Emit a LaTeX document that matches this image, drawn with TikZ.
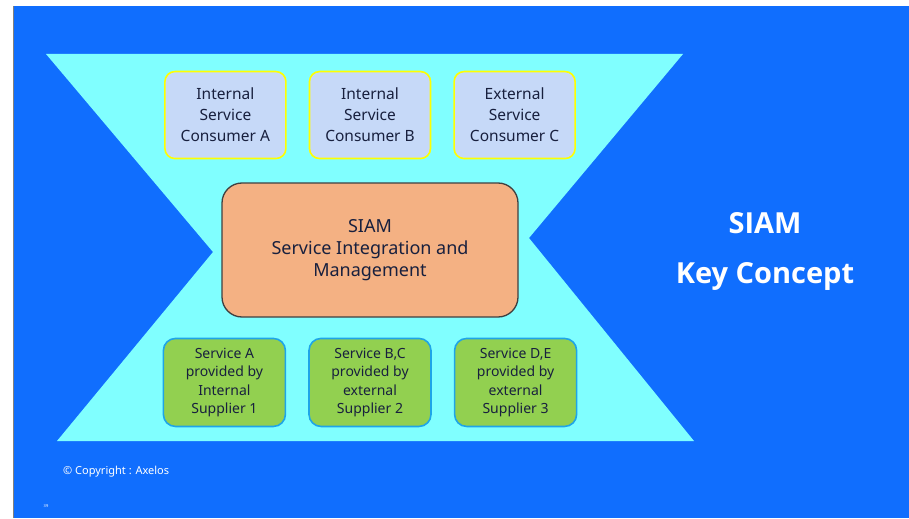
\documentclass[tikz,border=0pt]{standalone}
\usepackage{fontspec}
\setmainfont{Noto Sans}
\newfontfamily\titlefont{Open Sans}
\usepackage{xcolor}
\definecolor{slide-blue}{HTML}{106EFE}
\definecolor{hour-cyan}{HTML}{80FFFF}
\definecolor{consumer-fill}{HTML}{C6D9F8}
\definecolor{consumer-edge}{HTML}{FFFF00}
\definecolor{siam-fill}{HTML}{F4B183}
\definecolor{siam-edge}{HTML}{404040}
\definecolor{supplier-fill}{HTML}{92D050}
\definecolor{supplier-edge}{HTML}{1EA5E8}
\definecolor{ink}{HTML}{18203E}
\usepackage{tikz}
\usetikzlibrary{positioning}
\tikzset{consumer/.style = {draw=consumer-edge, line width=1.6pt, fill=consumer-fill, rounded corners=10pt, align=center, text centered, text=ink, minimum width=121pt, minimum height=87pt, inner sep=0pt, font=\fontsize{15.5}{21}\selectfont}}
\tikzset{supplier/.style = {draw=supplier-edge, line width=1.6pt, fill=supplier-fill, rounded corners=12pt, align=center, text centered, text=ink, minimum width=122pt, minimum height=88pt, inner sep=0pt, font=\fontsize{14}{18.5}\selectfont}}
\tikzset{core/.style = {draw=siam-edge, line width=1.3pt, fill=siam-fill, rounded corners=20pt, align=center, text centered, text=ink, minimum width=296pt, minimum height=134pt, inner sep=0pt, font=\fontsize{18}{22}\selectfont}}

\begin{document}
\begin{tikzpicture}[x=1pt, y=-1pt,
  node distance = 22pt and 22pt,
]

% slide background
\fill[white] (0,0) rectangle (909,518);
\fill[slide-blue] (13,6) rectangle (909,518);
\draw[gray, line width=0.8pt] (13,6) -- (13,518);

% hourglass
\fill[hour-cyan] (46,54) -- (683,54) -- (529,238) -- (694,441)
  -- (57,441) -- (213,252) -- cycle;

\node[core] (siam) at (370,250) {SIAM\\Service Integration and\\Management};

\node[consumer, above=23pt of siam] (consB) {Internal\\Service\\Consumer B};
\node[consumer, left=of consB] (consA) {Internal\\Service\\Consumer A};
\node[consumer, right=of consB] (consC) {External\\Service\\Consumer C};

\node[supplier, below=20pt of siam] (supB) {Service B,C\\provided by\\external\\Supplier 2};
\node[supplier, left=of supB] (supA) {Service A\\provided by\\Internal\\Supplier 1};
\node[supplier, right=of supB] (supC) {Service D,E\\provided by\\external\\Supplier 3};

\node[text=white, align=center, font=\titlefont\bfseries\fontsize{29}{50}\selectfont] (title) at (765,251) {SIAM\\Key Concept};

\node[text=white, anchor=west, inner sep=0pt, font=\fontsize{11}{13}\selectfont] (copy) at (63,472) {© Copyright : Axelos};
\node[text=white, inner sep=0pt, font=\fontsize{4}{5}\selectfont] (page) at (46,506) {39};

\end{tikzpicture}
\end{document}
